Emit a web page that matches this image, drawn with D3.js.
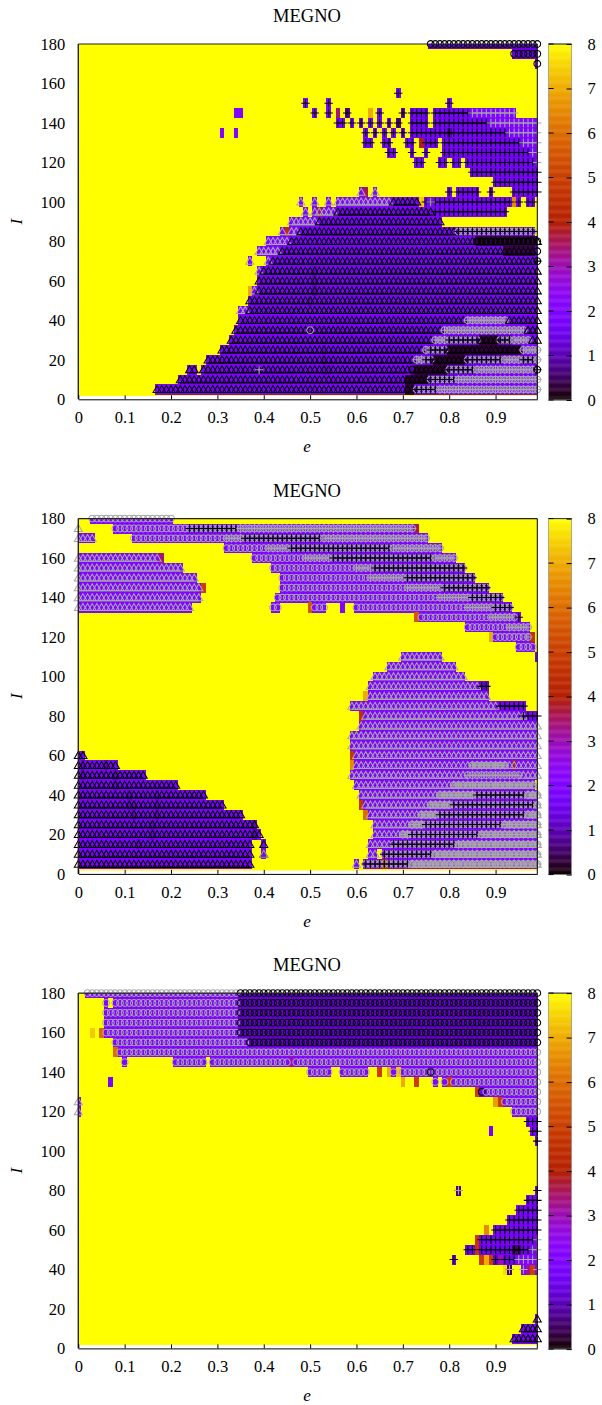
<!DOCTYPE html>
<html><head><meta charset="utf-8">
<script src="https://cdn.jsdelivr.net/npm/d3@7"></script>
<style>html,body{margin:0;padding:0;background:#fff}svg{display:block}text{font-family:"Liberation Serif",serif;fill:#000}</style>
</head><body><svg id="c" width="602" height="1405"></svg>
<script>
const eTicks=[0,0.1,0.2,0.3,0.4,0.5,0.6,0.7,0.8,0.9];
const iTicks=[0,20,40,60,80,100,120,140,160,180];
const cbTicks=[0,1,2,3,4,5,6,7,8];
const panelTitles=["MEGNO","MEGNO","MEGNO"];
// rows: [I, e from (x100), e to (x100), MEGNO value, markers]; T/t triangle, O/o circle, P/p plus (upper = black, lower = grey)
const panelA=[
[180,76,99,1.4,'O'],[175,94,99,1.4,'O'],[170,99,99,1.4,'O'],
[155,69,69,1.8,'P'],
[150,49,49,1.8,'P'],[150,54,54,1.8,'P'],[150,80,80,1.8,'P'],
[145,34,35,2,''],[145,51,51,1.8,'P'],[145,54,54,1.8,'P'],[145,56,56,3.4,''],[145,58,58,0.9,'P'],[145,63,63,7,''],[145,65,65,1.8,'P'],[145,70,70,1.2,'P'],[145,72,75,1.6,'P'],[145,77,84,1.7,'P'],[145,85,94,2,'p'],
[140,56,57,1.8,'P'],[140,59,59,1.8,'P'],[140,61,61,1.8,'P'],[140,63,63,1.8,'P'],[140,65,65,1.8,'P'],[140,67,67,1.8,'P'],[140,69,69,0.8,'P'],[140,72,75,1.7,'P'],[140,77,88,1.7,'P'],[140,89,99,2,'p'],
[135,31,31,2,''],[135,34,34,2,''],[135,62,62,1.8,'P'],[135,64,64,1.8,'P'],[135,66,66,1.8,'P'],[135,68,68,1.8,'P'],[135,70,70,1.8,'P'],[135,72,92,1.7,'P'],[135,80,80,0.9,'P'],[135,93,99,1.9,'p'],
[130,62,63,1.8,'P'],[130,66,67,1.8,'P'],[130,71,72,1.8,'P'],[130,74,74,3.8,''],[130,75,77,1.7,'P'],[130,79,95,1.7,'P'],[130,96,99,1.8,'p'],
[125,67,68,1.8,'P'],[125,72,72,1.8,'P'],[125,75,75,1.8,'P'],[125,79,97,1.6,'P'],[125,98,99,1.8,'p'],
[120,73,74,1.8,'P'],[120,78,79,1.8,'P'],[120,81,82,1.8,'P'],[120,84,98,1.7,'P'],[120,99,99,1.8,'p'],
[115,85,99,1.7,'P'],[110,90,99,1.7,'P'],
[105,61,61,2,'t'],[105,62,62,3.5,''],[105,64,64,2,'t'],[105,80,80,1.8,'P'],[105,82,84,1.8,'P'],[105,85,86,1.8,'P'],[105,89,89,1.8,'P'],[105,94,99,1.8,'P'],
[100,48,48,2,'t'],[100,51,51,2,'t'],[100,54,54,2,'t'],[100,56,67,2,'t'],[100,68,73,1.9,'T'],[100,74,74,7.4,''],[100,75,93,1.8,'P'],[100,76,76,1.8,'p'],[100,94,94,6.5,''],[100,95,95,1.8,'P'],[100,97,98,1.8,'P'],
[95,49,49,2,'t'],[95,51,55,2,'t'],[95,52,52,3.4,''],[95,56,76,1.9,'T'],[95,77,92,1.8,'P'],
[90,46,51,2,'t'],[90,52,78,1.9,'T'],
[85,44,44,2,'t'],[85,45,45,4.5,''],[85,46,47,2,'t'],[85,48,81,1.9,'T'],[85,82,98,1.6,'oP'],
[80,41,45,2,'t'],[80,46,85,1.9,'T'],[80,86,99,0.4,'TO'],
[75,39,43,2,'t'],[75,44,91,1.9,'T'],[75,92,98,0.4,'T'],[75,99,99,1.2,'O'],
[70,37,37,2,'t'],[70,41,41,2,'t'],[70,42,98,1.9,'T'],[70,99,99,1.7,'OP'],
[65,39,39,2,'t'],[65,40,99,1.9,'T'],
[60,39,99,1.9,'T'],
[55,37,37,7,''],[55,38,38,2,'t'],[55,39,99,1.9,'T'],
[50,37,99,1.9,'T'],
[45,35,36,2,'t'],[45,37,99,1.9,'T'],
[40,35,83,1.9,'T'],[40,84,92,1.9,'op'],[40,93,99,1.9,'T'],
[35,34,78,1.9,'T'],[35,50,50,1.9,'o'],[35,79,96,1.9,'op'],[35,97,99,1.9,'T'],
[30,33,76,1.9,'T'],[30,77,79,1.9,'op'],[30,80,86,1.5,'oP'],[30,87,90,0.3,'T'],[30,91,93,1.2,'oP'],[30,94,97,1.9,'op'],[30,98,99,1.9,'T'],
[25,31,74,1.9,'T'],[25,75,75,1.9,'op'],[25,76,79,1.5,'oP'],[25,80,95,0.3,'T'],[25,96,99,1.9,'op'],
[20,28,72,1.9,'T'],[20,73,74,1.9,'op'],[20,75,76,1.5,'oP'],[20,77,83,0.3,'T'],[20,84,91,1.5,'oP'],[20,92,95,1.9,'op'],[20,96,98,1.5,'oP'],[20,99,99,1.9,'op'],
[15,24,25,1.9,'T'],[15,27,71,1.9,'T'],[15,39,39,1.9,'p'],[15,72,72,1,'O'],[15,73,79,0.3,'T'],[15,80,85,1.5,'oP'],[15,86,98,1.9,'op'],[15,99,99,1,'OP'],
[10,22,70,1.9,'T'],[10,71,75,0.3,'T'],[10,76,81,1.5,'oP'],[10,82,99,1.9,'op'],
[5,17,70,1.9,'T'],[5,71,72,0.3,'T'],[5,73,77,1.5,'oP'],[5,78,99,1.9,'op'],
[65,51,51,1.3,''],[60,51,51,1.2,''],[55,51,51,1.2,''],[50,50,50,1.3,''],[25,53,53,1.4,''],[20,53,53,1.3,''],[15,53,54,1.4,'']
];
const panelB=[
[180,3,20,2,'o'],
[175,0,0,8,'t'],[175,8,23,2,'o'],[175,24,34,1.8,'oP'],[175,35,72,2,'op'],[175,73,73,3.6,''],
[170,0,3,2,'t'],[170,12,31,2,'o'],[170,32,35,2,'op'],[170,36,52,1.8,'oP'],[170,53,75,2,'op'],
[165,32,40,2,'o'],[165,41,45,2,'op'],[165,46,67,1.8,'oP'],[165,68,78,2,'op'],
[160,0,17,2,'t'],[160,18,18,3.4,''],[160,38,48,2,'o'],[160,49,54,2,'op'],[160,55,76,1.8,'oP'],[160,77,81,2,'op'],
[155,0,22,2,'t'],[155,42,56,2,'o'],[155,57,59,2,'o'],[155,60,63,2,'op'],[155,64,83,1.8,'oP'],
[150,0,25,2,'t'],[150,44,62,2,'o'],[150,63,70,2,'op'],[150,71,85,1.8,'oP'],
[145,0,26,2,'t'],[145,27,27,5,''],[145,44,70,2,'o'],[145,71,78,2,'op'],[145,79,88,1.8,'oP'],
[140,0,26,2,'t'],[140,43,77,2,'o'],[140,78,84,2,'op'],[140,85,91,1.8,'oP'],
[135,0,24,2,'t'],[135,42,43,2,'o'],[135,50,50,5.6,''],[135,51,53,2,'o'],[135,57,57,2,''],[135,60,60,2,'o'],[135,61,83,2,'o'],[135,84,89,2,'op'],[135,90,93,1.8,'oP'],
[130,73,73,5.6,''],[130,74,88,2,'o'],[130,89,94,2,'op'],[130,95,95,1.8,'P'],
[125,84,92,2,'o'],[125,93,97,2,'op'],
[120,89,89,7,''],[120,90,96,2,'o'],[120,97,97,2,'op'],[120,98,98,4.6,''],
[115,95,98,2,'o'],
[110,70,78,2,'t'],[110,99,99,1.6,''],
[105,67,81,2,'t'],
[100,64,83,2,'t'],
[95,63,86,2,'t'],[95,87,88,1.3,'P'],
[90,62,62,7,''],[90,63,88,2,'t'],
[85,59,90,2,'t'],[85,91,96,1.7,'P'],
[80,61,61,4.6,''],[80,62,96,2,'t'],[80,96,99,1.7,'P'],
[75,61,99,2,'t'],
[70,59,99,2,'t'],
[65,59,99,2,'t'],
[60,59,59,4.8,''],[60,60,99,2,'t'],
[55,59,59,6.5,''],[55,60,99,2,'t'],[55,85,92,2,'op'],[55,94,94,3.5,''],
[50,59,83,2,'t'],[50,84,95,2,'op'],[50,96,99,2,'t'],
[45,60,80,2,'t'],[45,81,98,2,'opt'],
[40,61,77,2,'t'],[40,78,85,2,'opt'],[40,86,96,2,'oP'],[40,97,99,2,'opt'],
[35,61,61,4.8,''],[35,62,75,2,'t'],[35,76,80,2,'opt'],[35,81,98,2,'oP'],[35,99,99,2,'opt'],
[30,62,62,6,''],[30,63,73,2,'t'],[30,74,77,2,'opt'],[30,78,96,2,'oP'],[30,97,99,2,'opt'],
[25,64,71,2,'t'],[25,72,74,2,'opt'],[25,75,91,2,'oP'],[25,92,99,2,'opt'],
[20,64,69,2,'t'],[20,70,71,2,'opt'],[20,72,86,2,'oP'],[20,87,99,2,'opt'],
[15,63,67,2,'t'],[15,68,81,2,'oP'],[15,82,99,2,'opt'],
[10,40,40,1.9,'Tt'],[10,63,64,2,'t'],[10,66,76,2,'oP'],[10,77,99,2,'opt'],
[5,60,60,2,'t'],[5,62,71,2,'oP'],[5,66,66,4.4,''],[5,72,99,2,'opt'],
[60,0,1,1.9,'T'],[55,0,8,1.9,'T'],[50,0,14,1.9,'T'],[45,0,21,1.9,'T'],[40,0,27,1.9,'T'],[35,0,31,1.9,'T'],[30,0,35,1.9,'T'],[25,0,38,1.9,'T'],[20,0,39,1.9,'T'],[15,0,37,1.9,'T'],[15,40,40,1.9,'T'],[10,0,37,1.9,'T'],[5,0,37,1.9,'T'],
[55,1,1,1.2,''],[50,1,1,1.2,''],[55,6,6,1.2,''],[50,8,8,1.2,''],[45,8,8,1.3,''],[40,11,11,1.3,''],[35,11,12,1.3,''],[30,12,12,1.2,''],[40,17,17,1.3,''],[35,17,17,1.2,''],[30,17,17,1.2,''],[25,16,16,1.3,''],[20,16,16,1.3,''],[15,13,13,1.3,''],[25,38,38,1.1,''],[20,38,38,1.1,'']
];
const panelC=[
[180,2,34,2,'o'],[180,35,99,1.2,'O'],
[175,6,6,2,'o'],[175,8,34,2,'o'],[175,35,99,1.2,'O'],
[170,6,34,2,'o'],[170,35,99,1.2,'O'],
[165,6,34,2,'o'],[165,35,99,1.2,'O'],
[160,3,3,7.4,''],[160,5,5,6,''],[160,6,34,2,'o'],[160,35,99,1.2,'O'],
[155,8,36,2,'o'],[155,37,99,1.2,'O'],
[150,8,8,6,''],[150,9,99,2,'o'],
[145,10,10,2,'o'],[145,21,27,2,'o'],[145,29,45,2,'o'],[145,46,46,3,''],[145,47,99,2,'o'],
[140,50,53,2,'o'],[140,54,54,2,'o'],[140,57,59,2,'o'],[140,60,62,2,'o'],[140,65,65,5,''],[140,67,67,7,''],[140,68,68,2,'o'],[140,69,69,7.4,''],[140,70,99,2,'o'],[140,76,76,1.5,'O'],
[135,7,7,1.8,''],[135,70,70,7,''],[135,73,73,5,''],[135,77,77,2,'o'],[135,79,79,2,'o'],[135,80,80,5,''],[135,81,99,2,'o'],
[130,86,86,5,''],[130,87,87,1.5,'O'],[130,88,99,2,'o'],
[125,0,0,2.2,'t'],[125,90,90,6.8,''],[125,91,91,5,''],[125,92,99,2,'o'],
[120,0,0,2.2,'t'],[120,94,99,2,'o'],
[115,97,99,1.8,'P'],
[110,89,89,1.8,''],[110,98,99,1.8,'P'],
[105,99,99,1.8,'P'],
[80,82,82,0.7,'Pp'],[80,99,99,1.8,'P'],
[75,97,99,1.8,'P'],
[70,95,99,1.8,'P'],
[65,93,99,1.8,'P'],
[60,88,88,6.5,''],[60,90,99,1.8,'P'],
[55,86,86,4.8,''],[55,87,89,1.8,'P'],[55,90,98,1.8,'P'],[55,99,99,1.8,'p'],
[50,84,85,1.6,'P'],[50,86,86,4.8,''],[50,87,98,1.6,'P'],[50,94,95,0.6,'P'],[50,98,99,1.8,'p'],
[45,81,81,1.4,'P'],[45,87,87,5,''],[45,88,88,7,''],[45,89,89,5,''],[45,90,90,1.2,'P'],[45,91,91,3,''],[45,92,94,1.6,'P'],[45,95,99,2,'p'],
[40,92,92,7.6,''],[40,93,93,0.6,'Pp'],[40,96,96,2,'p'],[40,97,97,3.2,''],[40,98,98,5,''],[40,99,99,2,'p'],
[15,99,99,1.9,'T'],[10,96,99,1.9,'T'],[5,94,99,1.9,'T']
];
const panels=[panelA,panelB,panelC];
const panelTop=[44,518.6,993.1];

const svg=d3.select('#c');
const palette=v=>{const x=Math.max(0,Math.min(1,v/8));
  return d3.rgb(255*Math.sqrt(x),255*x*x*x,255*Math.max(0,Math.sin(2*Math.PI*x))).formatHex();};
const plusShape={draw(ctx,size){const r=Math.sqrt(size);ctx.moveTo(-r,0);ctx.lineTo(r,0);ctx.moveTo(0,-r);ctx.lineTo(0,r);}};
const symbols={
  T:{type:d3.symbolTriangle,size:28,stroke:'#000',dy:0.8},
  t:{type:d3.symbolTriangle,size:28,stroke:'#a8a8a8',dy:0.8},
  O:{type:d3.symbolCircle,size:36,stroke:'#000',dy:0},
  o:{type:d3.symbolCircle,size:36,stroke:'#a8a8a8',dy:0},
  P:{type:plusShape,size:18,stroke:'#000',dy:0},
  p:{type:plusShape,size:18,stroke:'#a8a8a8',dy:0}
};
const H=355.3, L=78.3, R=537.3;
const tickFont='16.5px';
panels.forEach((rows,pi)=>{
  const top=panelTop[pi];
  const x=d3.scaleLinear().domain([0,0.99]).range([L,R]);
  const y=d3.scaleLinear().domain([0,180]).range([top+H,top]);
  const g=svg.append('g');
  const cw=x(0.01)-x(0), ch=y(0)-y(5);
  const clipId='clip'+pi;
  svg.append('clipPath').attr('id',clipId).append('rect')
    .attr('x',L).attr('y',top).attr('width',R-L+cw/2).attr('height',y(1.7)-top);
  g.append('rect').attr('x',L).attr('y',top).attr('width',R-L).attr('height',y(1.7)-top).attr('fill',palette(8));
  const cells=rows.filter(r=>r[3]<8);
  g.append('g').attr('clip-path',`url(#${clipId})`).selectAll('rect').data(cells).join('rect')
    .attr('x',d=>x(d[1]/100)-cw/2).attr('width',d=>Math.min(x(d[2]/100)+cw/2,R)-x(d[1]/100)+cw/2)
    .attr('y',d=>y(d[0])-ch/2).attr('height',ch+0.2)
    .attr('fill',d=>palette(d[3])).attr('shape-rendering','crispEdges');
  // markers
  const mg=g.append('g').attr('fill','none').attr('stroke-width',1.05);
  rows.forEach(r=>{
    for(const m of r[4]){
      const s=symbols[m];
      const path=d3.symbol().type(s.type).size(s.size)();
      const dd=d3.range(r[1],r[2]+1);
      mg.append('g').attr('stroke',s.stroke).selectAll('path').data(dd).join('path')
        .attr('d',path).attr('transform',d=>`translate(${x(d/100)},${y(r[0])+s.dy})`);
    }
  });
  // frame
  const f=g.append('g');
  f.append('line').attr('x1',L).attr('x2',L).attr('y1',top).attr('y2',top+H).attr('stroke','#222').attr('stroke-width',1.4);
  f.append('line').attr('x1',L).attr('x2',R).attr('y1',top).attr('y2',top).attr('stroke','#222').attr('stroke-width',1.2);
  f.append('line').attr('x1',R).attr('x2',R).attr('y1',top).attr('y2',top+H).attr('stroke','#000').attr('stroke-width',1);
  // x axis
  const ax=g.append('g').attr('transform',`translate(0,${top+H})`)
    .call(d3.axisBottom(x).tickValues(eTicks).tickFormat(d=>d===0?'0':d3.format('.1f')(d)).tickSizeInner(-4).tickSizeOuter(0).tickPadding(12));
  ax.select('.domain').attr('stroke','#000');
  ax.selectAll('text').style('font-size',tickFont).style('font-family','"Liberation Serif"');
  // y axis
  const ay=g.append('g').attr('transform',`translate(${L},0)`)
    .call(d3.axisLeft(y).tickValues(iTicks).tickSize(0).tickPadding(13));
  ay.select('.domain').remove();
  ay.selectAll('text').style('font-size',tickFont).style('font-family','"Liberation Serif"');
  // labels
  g.append('text').attr('x',307).attr('y',top-22).attr('text-anchor','middle').style('font-size','18.5px').text(panelTitles[pi]);
  g.append('text').attr('x',307).attr('y',top+H+53).attr('text-anchor','middle').style('font-size','17px').style('font-style','italic').text('e');
  g.append('text').attr('transform',`translate(22,${top+H/2}) rotate(-90)`).attr('text-anchor','middle').style('font-size','17px').style('font-style','italic').text('I');
  // colour bar
  const cb=d3.scaleLinear().domain([0,8]).range([top+H+0.7,top]);
  const bx=548.6,bw=23;
  g.append('g').selectAll('rect').data(d3.range(0,8,0.02)).join('rect')
    .attr('x',bx).attr('width',bw).attr('y',d=>cb(d+0.02)).attr('height',d=>cb(d)-cb(d+0.02)+0.4)
    .attr('fill',d=>palette(d));
  g.append('rect').attr('x',bx).attr('y',top).attr('width',bw).attr('height',cb(0)-top).attr('fill','none').attr('stroke','#999').attr('stroke-width',0.8);
  g.append('line').attr('x1',bx).attr('x2',bx+bw).attr('y1',top).attr('y2',top).attr('stroke','#333');
  const cbAxis=g.append('g').attr('transform',`translate(${bx+bw},0)`)
    .call(d3.axisRight(cb).tickValues(cbTicks).tickSizeInner(-5).tickSizeOuter(0).tickPadding(16));
  cbAxis.select('.domain').remove();
  cbAxis.selectAll('text').style('font-size',tickFont).style('font-family','"Liberation Serif"');
  g.append('g').attr('stroke','#000').selectAll('line').data(cbTicks).join('line')
    .attr('x1',bx).attr('x2',bx+5).attr('y1',d=>cb(d)).attr('y2',d=>cb(d));
});
</script></body></html>
